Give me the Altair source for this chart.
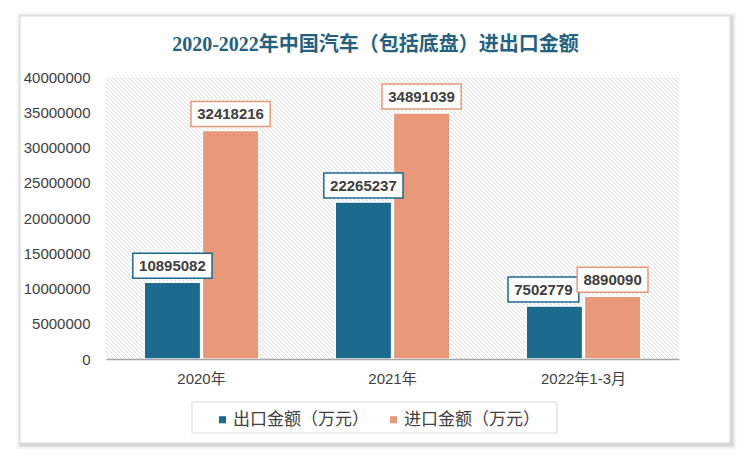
import altair as alt
import pandas as pd
import numpy as np

# ---------------- data ----------------
categories = ["2020年", "2021年", "2022年1-3月"]
series = ["出口金额（万元）", "进口金额（万元）"]
export_values = [10895082, 22265237, 7502779]
import_values = [32418216, 34891039, 8890090]
y_ticks = [0, 5000000, 10000000, 15000000, 20000000, 25000000, 30000000, 35000000, 40000000]
title_text = "2020-2022年中国汽车（包括底盘）进出口金额"

colors = ["#1c6a8e", "#e8997a"]

# ---------------- layout ----------------
W, H = 573, 282
PAD_L, PAD_T = 106, 77
SHIFT_PX = -11  # label nudge for the crowded 2022 export label

rows = []
for cat, ev, iv in zip(categories, export_values, import_values):
    for s, v in zip(series, [ev, iv]):
        label = str(v)
        w = len(label) * 8.4 + 12
        hh = 25
        r = hh / w
        shifted = 1 if (cat == categories[2] and s == series[0]) else 0
        d = (SHIFT_PX / (w / 2)) if shifted else 0.0
        path = (f"M{-1 + d:.4f},{-r:.4f} L{1 + d:.4f},{-r:.4f} "
                f"L{1 + d:.4f},{r:.4f} L{-1 + d:.4f},{r:.4f} Z")
        rows.append({"年份": cat, "类型": s, "金额": v, "label": label,
                     "size": w * w, "path": path, "shift": shifted})
df = pd.DataFrame(rows)

# hatch background lines (decorative)
ks = np.arange(-H, W + 4, 4)
hatch_df = pd.DataFrame({"hx1": ks, "hx2": ks + H, "hy1": 0, "hy2": H})

one = alt.Data(values=[{}])

def rect_px(x, x2, y, y2, **kw):
    return alt.Chart(one).mark_rect(**kw).encode(
        x=alt.value(x), x2=alt.value(x2), y=alt.value(y), y2=alt.value(y2))

# frame with soft shadow
fx1, fx2, fy1, fy2 = 20 - PAD_L, 730 - PAD_L, 16 - PAD_T, 443 - PAD_T
shadows = []
for i, op in enumerate([0.05, 0.04, 0.03, 0.02, 0.015]):
    e = i + 1
    shadows.append(rect_px(fx1 - e + 1, fx2 + e + 2, fy1 - e + 1, fy2 + e + 2,
                           fill="#000000", opacity=op))
frame = rect_px(fx1, fx2, fy1, fy2, fill="white", stroke="#d9d9d9", strokeWidth=1)

legend_box = rect_px(192 - PAD_L, 557 - PAD_L, 402 - PAD_T, 433 - PAD_T,
                     fill="white", stroke="#d9d9d9", strokeWidth=1)

hatch = alt.Chart(hatch_df).mark_rule(clip=True, stroke="#dcdcdc", strokeWidth=1).encode(
    x=alt.X("hx1:Q", scale=None, axis=None),
    x2="hx2:Q",
    y=alt.Y("hy1:Q", scale=None, axis=None),
    y2="hy2:Q",
)

font_lat = "Liberation Sans, Noto Sans CJK SC"

base = alt.Chart(df).encode(
    x=alt.X("年份:N", sort=categories,
            scale=alt.Scale(paddingInner=0.4, paddingOuter=0.2),
            axis=alt.Axis(title=None, orient="bottom", labelAngle=0, ticks=False, zindex=1,
                          domainColor="#a6a6a6", domainWidth=1.5, labelFontSize=15,
                          labelColor="#404040", labelPadding=12, labelFont=font_lat)),
    xOffset=alt.XOffset("类型:N", sort=series, scale=alt.Scale(paddingInner=0.03)),
    y=alt.Y("金额:Q", scale=alt.Scale(domain=[0, 40000000]),
            axis=alt.Axis(title=None, orient="left", values=y_ticks, format="d", zindex=1,
                          domain=False, ticks=False, grid=False, labelFontSize=15,
                          labelColor="#404040", labelPadding=16, labelFont=font_lat)),
)

bars = base.mark_bar(stroke="white", strokeWidth=1.5).encode(
    color=alt.Color("类型:N", sort=series,
                    scale=alt.Scale(domain=series, range=colors),
                    legend=alt.Legend(title=None, orient="none", legendX=108, legendY=334,
                                      direction="horizontal", symbolType="square",
                                      symbolSize=50, symbolStrokeWidth=0, zindex=1,
                                      labelFontSize=17, labelFont="Noto Sans CJK SC",
                                      labelColor="#404040", columnPadding=16,
                                      labelOffset=2, padding=0))
)

stroke_enc = alt.Stroke("类型:N", scale=alt.Scale(domain=series, range=colors), legend=None)

def boxes_for(cond):
    return base.mark_point(filled=True, fill="white", strokeWidth=1.5, opacity=1,
                           fillOpacity=1, strokeOpacity=1, yOffset=-16.5).encode(
        shape=alt.Shape("path:N", scale=None),
        size=alt.Size("size:Q", scale=None),
        stroke=stroke_enc,
    ).transform_filter(cond)

def texts_for(cond, dx=0):
    return base.mark_text(fontSize=15, fontWeight="bold", color="#404040", yOffset=-16.5,
                          dx=dx, baseline="middle", font="Liberation Sans").encode(
        text="label:N").transform_filter(cond)

boxes_s = boxes_for(alt.datum.shift == 1)
texts_s = texts_for(alt.datum.shift == 1, dx=SHIFT_PX)
boxes = boxes_for(alt.datum.shift == 0)
texts = texts_for(alt.datum.shift == 0)

main = alt.layer(bars, boxes_s, texts_s, boxes, texts)

chart = alt.layer(*shadows, frame, legend_box, hatch, main).resolve_scale(
    x="independent", y="independent"
).properties(
    width=W, height=H,
    title=alt.Title(title_text, fontSize=20, fontWeight="bold",
                    font="Liberation Serif, Noto Sans CJK SC", color="#24627f",
                    anchor="middle", dx=-17, offset=-43, zindex=1),
    autosize=alt.AutoSizeParams(type="none"),
    padding={"left": PAD_L, "top": PAD_T, "right": 750 - PAD_L - W, "bottom": 461 - PAD_T - H},
    background="white",
).configure_view(stroke=None)

chart.save("out.html", embed_options={"renderer": "svg", "actions": False})
